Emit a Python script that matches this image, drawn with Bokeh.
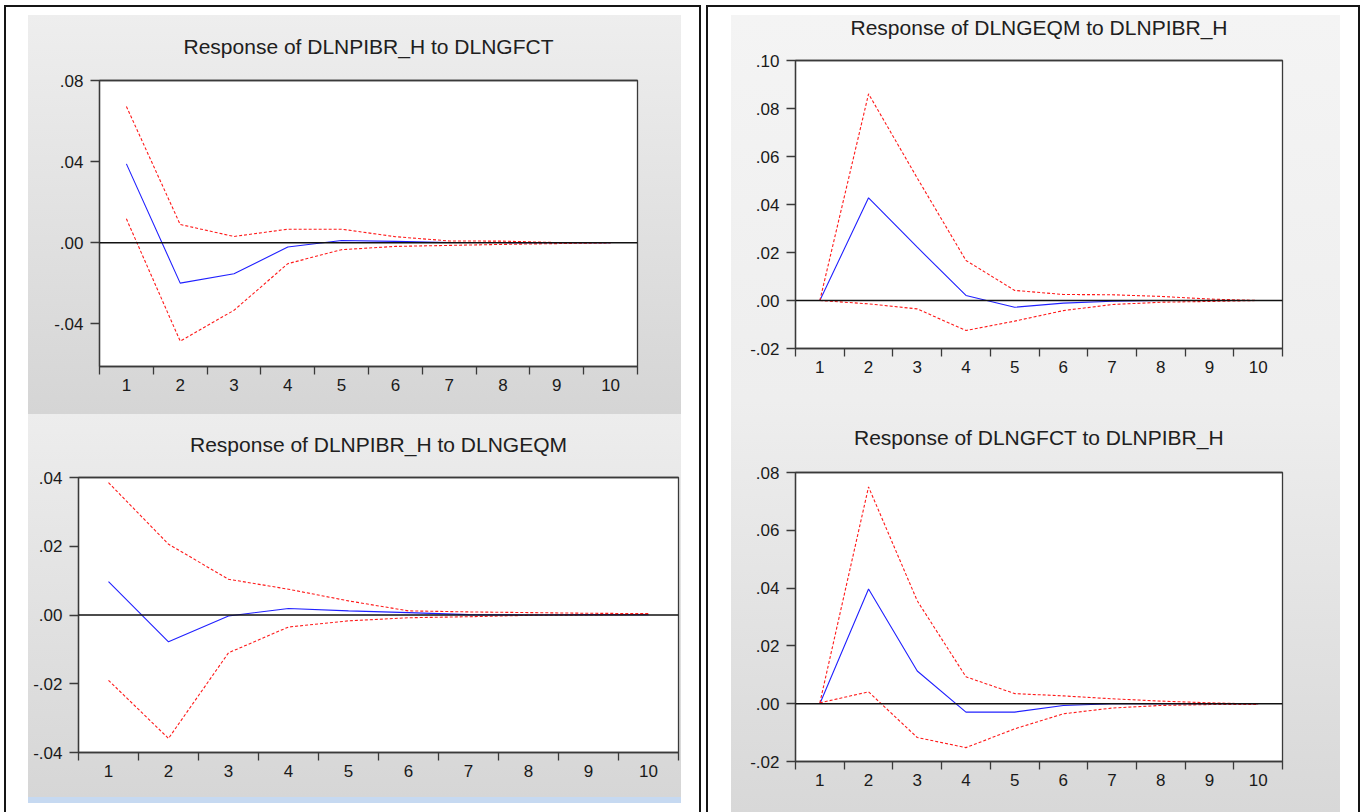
from bokeh.plotting import figure
from bokeh.layouts import row, column
from bokeh.models import FixedTicker, CustomJSTickFormatter, Span, Spacer, Range1d, LinearAxis
from bokeh.embed import file_html
from bokeh.resources import INLINE

# ---------------- data ----------------
steps = [1, 2, 3, 4, 5, 6, 7, 8, 9, 10]

tl_title = "Response of DLNPIBR_H to DLNGFCT"
tl_resp = [0.0389, -0.0199, -0.0153, -0.0021, 0.0011, 0.0007, 0.0001, 0.0001, 0.0000, 0.0000]
tl_upper = [0.0672, 0.0090, 0.0031, 0.0067, 0.0067, 0.0030, 0.0009, 0.0008, 0.0001, 0.0000]
tl_lower = [0.0118, -0.0485, -0.0333, -0.0103, -0.0034, -0.0018, -0.0013, -0.0008, -0.0004, 0.0000]
tl_yticks = [-0.04, 0.0, 0.04, 0.08]

bl_title = "Response of DLNPIBR_H to DLNGEQM"
bl_resp = [0.0097, -0.0078, -0.0003, 0.0019, 0.0012, 0.0007, 0.0001, 0.0000, 0.0001, 0.0001]
bl_upper = [0.0385, 0.0206, 0.0104, 0.0075, 0.0041, 0.0012, 0.0009, 0.0007, 0.0005, 0.0004]
bl_lower = [-0.0190, -0.0359, -0.0110, -0.0035, -0.0017, -0.0008, -0.0005, -0.0001, 0.0000, 0.0002]
bl_yticks = [-0.04, -0.02, 0.0, 0.02, 0.04]

tr_title = "Response of DLNGEQM to DLNPIBR_H"
tr_resp = [0.0000, 0.0428, 0.0222, 0.0021, -0.0028, -0.0011, -0.0003, 0.0000, 0.0000, 0.0000]
tr_upper = [0.0000, 0.0861, 0.0510, 0.0167, 0.0042, 0.0025, 0.0024, 0.0017, 0.0006, 0.0000]
tr_lower = [0.0000, -0.0014, -0.0035, -0.0125, -0.0086, -0.0042, -0.0017, -0.0007, -0.0004, 0.0000]
tr_yticks = [-0.02, 0.0, 0.02, 0.04, 0.06, 0.08, 0.10]

br_title = "Response of DLNGFCT to DLNPIBR_H"
br_resp = [0.0000, 0.0397, 0.0113, -0.0029, -0.0029, -0.0006, 0.0000, 0.0000, 0.0000, 0.0000]
br_upper = [0.0003, 0.0750, 0.0356, 0.0093, 0.0035, 0.0027, 0.0017, 0.0009, 0.0003, -0.0001]
br_lower = [0.0003, 0.0041, -0.0117, -0.0152, -0.0087, -0.0035, -0.0015, -0.0006, -0.0003, -0.0003]
br_yticks = [-0.02, 0.0, 0.02, 0.04, 0.06, 0.08]

# ---------------- styling helpers ----------------
FONT = "Liberation Sans"
FRAME = "#3a3a3a"

fmt_code = "const s = tick.toFixed(2); return s.replace('0.', '.');"


def make_panel(title, resp, upper, lower, yticks, ylo, yhi, w, h,
               b_left, b_right, b_top, b_bottom, grad, title_gap):
    p = figure(width=w, height=h, x_range=Range1d(0.5, 10.5),
               y_range=Range1d(ylo, yhi), output_backend="svg",
               toolbar_location=None, tools="",
               min_border_left=b_left, min_border_right=b_right,
               min_border_top=b_top, min_border_bottom=b_bottom)
    p.border_fill_color = None
    p.background_fill_color = "white"
    p.styles = {"background": grad}
    p.outline_line_color = FRAME
    p.outline_line_width = 1.3
    p.grid.visible = False

    xa = p.below[0]
    ya = p.left[0]

    bounds = [s - 0.5 for s in steps] + [steps[-1] + 0.5]
    xa.ticker = FixedTicker(ticks=steps, minor_ticks=bounds)
    xa.major_tick_out = 0
    xa.major_tick_in = 0
    xa.minor_tick_out = 8
    xa.minor_tick_in = 0
    xa.minor_tick_line_color = FRAME
    xa.minor_tick_line_width = 1.3
    xa.axis_line_color = FRAME
    xa.axis_line_width = 1.3
    xa.major_label_text_font = FONT
    xa.major_label_text_font_size = "17px"
    xa.major_label_text_color = "#1a1a1a"
    xa.major_label_standoff = 4

    ya.ticker = FixedTicker(ticks=yticks, minor_ticks=[])
    ya.formatter = CustomJSTickFormatter(code=fmt_code)
    ya.major_tick_out = 9
    ya.major_tick_in = 0
    ya.minor_tick_out = 0
    ya.minor_tick_in = 0
    ya.major_tick_line_color = FRAME
    ya.major_tick_line_width = 1.3
    ya.axis_line_color = FRAME
    ya.axis_line_width = 1.3
    ya.major_label_text_font = FONT
    ya.major_label_text_font_size = "17px"
    ya.major_label_text_color = "#1a1a1a"
    ya.major_label_standoff = 7

    # spacer axis (its single tick is not drawn) between the frame and the title
    gap_axis = LinearAxis(ticker=FixedTicker(ticks=[5.5], minor_ticks=[]),
                          formatter=CustomJSTickFormatter(code="return '';"),
                          major_tick_out=title_gap, major_tick_in=0,
                          minor_tick_out=0, minor_tick_in=0,
                          axis_line_color=FRAME, axis_line_width=1.3,
                          major_tick_line_color=FRAME,
                          major_tick_line_dash="0 100",
                          major_label_standoff=0,
                          major_label_text_font_size="1px")
    p.add_layout(gap_axis, "above")

    p.title.text = title
    p.title.align = "center"
    p.title.text_font = FONT
    p.title.text_font_size = "21px"
    p.title.text_font_style = "normal"
    p.title.text_color = "#202020"
    p.title.standoff = 0

    p.add_layout(Span(location=0, dimension="width", line_color="#111111",
                      line_width=1.4))
    p.line(steps, resp, line_color="#2020ff", line_width=1.1)
    p.line(steps, upper, line_color="#ff1a1a", line_width=1.1, line_dash="3 2")
    p.line(steps, lower, line_color="#ff1a1a", line_width=1.1, line_dash="3 2")
    return p


tl = make_panel(tl_title, tl_resp, tl_upper, tl_lower, tl_yticks, -0.061, 0.08,
                653, 399, 71, 44, 65, 48,
                "linear-gradient(#eeeeee, #d5d5d5)", 23)
bl = make_panel(bl_title, bl_resp, bl_upper, bl_lower, bl_yticks, -0.04, 0.04,
                653, 383, 50, 3, 63, 45,
                "linear-gradient(#ededed, #d6d6d6)", 22)
tr = make_panel(tr_title, tr_resp, tr_upper, tr_lower, tr_yticks, -0.02, 0.10,
                609, 393, 64, 58, 53, 52,
                "linear-gradient(#ffffff 0px, #ffffff 8px, #f4f4f4 8px, #eeeeee)", 22)
br = make_panel(br_title, br_resp, br_upper, br_lower, br_yticks, -0.02, 0.08,
                609, 412, 64, 58, 72, 51,
                "linear-gradient(#eeeeee, #d8d8d8)", 24)

tl.margin = (8, 18, 0, 22)
bl.margin = (0, 18, 0, 22)
strip = Spacer(width=653, height=6, styles={"background-color": "#c6d9f1"})
strip.margin = (0, 18, 0, 22)
tr.margin = (0, 18, 0, 23)
br.margin = (0, 18, 0, 23)


def vline(h):
    return Spacer(width=2, height=h, styles={"background-color": "#151515"})


def hline(w):
    return Spacer(width=w, height=2, styles={"background-color": "#151515"})


# each plot wrapped separately so that frames are not aligned with each other
l_inner = column(row(tl), row(bl), strip)
l_block = column(hline(697), row(vline(805), l_inner, vline(805)))
r_inner = column(row(tr), row(br))
r_block = column(hline(654), row(vline(805), r_inner, vline(805)))
r_block.margin = (0, 0, 0, 5)

root = row(l_block, r_block)
root.margin = (5, 0, 0, 4)

open("out.html", "w").write(file_html(root, INLINE))
